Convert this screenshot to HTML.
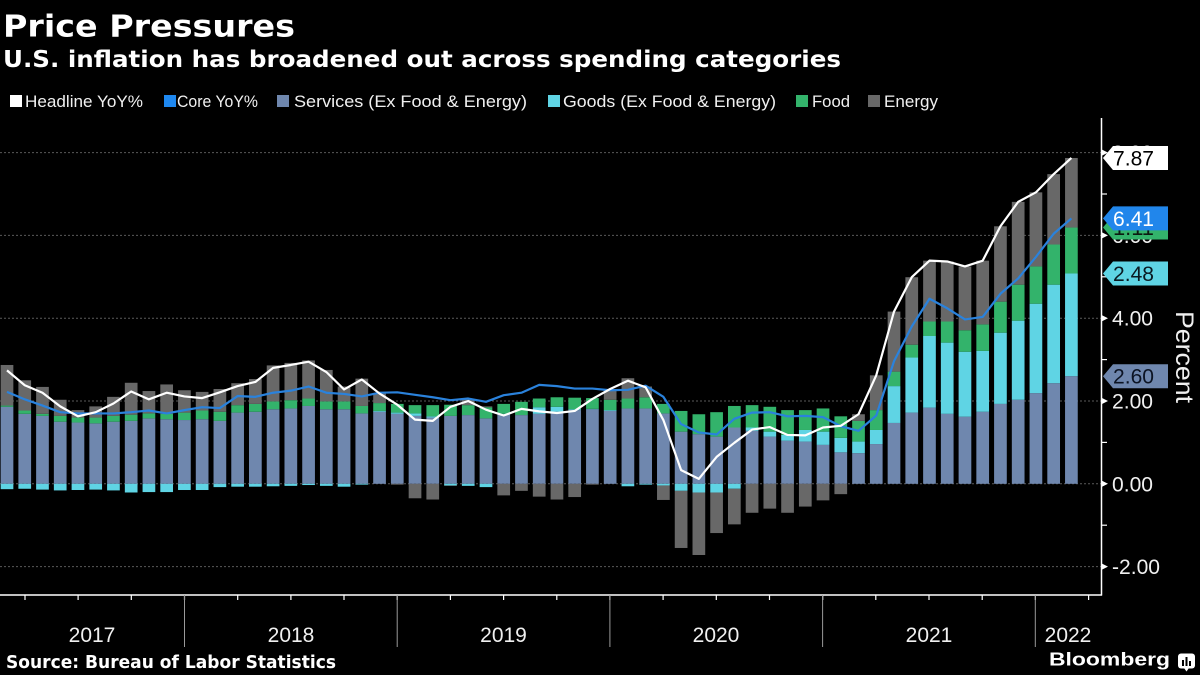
<!DOCTYPE html>
<html><head><meta charset="utf-8">
<style>
html,body{margin:0;padding:0;background:#000;width:1200px;height:675px;overflow:hidden;}
svg{display:block;}
.t{font-family:"DejaVu Sans","Liberation Sans",sans-serif;font-weight:bold;fill:#fff;}
.l{font-family:"Liberation Sans","DejaVu Sans",sans-serif;fill:#f0f0f0;}
</style></head>
<body>
<svg id="s" width="1200" height="675" viewBox="0 0 1200 675" xmlns="http://www.w3.org/2000/svg">
<rect x="0" y="0" width="1200" height="675" fill="#000"/>
<text class="t" x="3" y="36.5" font-size="30" textLength="292" lengthAdjust="spacingAndGlyphs">Price Pressures</text>
<text class="t" x="3" y="67" font-size="23.5" textLength="838" lengthAdjust="spacingAndGlyphs">U.S. inflation has broadened out across spending categories</text>

<g class="l" font-size="17">
<rect x="10" y="95" width="12" height="12" fill="#ffffff"/>
<text x="25" y="107" textLength="118" lengthAdjust="spacingAndGlyphs">Headline YoY%</text>
<rect x="164" y="95" width="12" height="12" fill="#1e88f0"/>
<text x="177" y="107" textLength="81" lengthAdjust="spacingAndGlyphs">Core YoY%</text>
<rect x="277" y="95" width="12" height="12" fill="#6f87ae"/>
<text x="294" y="107" textLength="233" lengthAdjust="spacingAndGlyphs">Services (Ex Food &amp; Energy)</text>
<rect x="548" y="95" width="12" height="12" fill="#5fd4e4"/>
<text x="563" y="107" textLength="213" lengthAdjust="spacingAndGlyphs">Goods (Ex Food &amp; Energy)</text>
<rect x="796" y="95" width="12" height="12" fill="#33b36b"/>
<text x="812" y="107" textLength="38" lengthAdjust="spacingAndGlyphs">Food</text>
<rect x="868" y="95" width="12" height="12" fill="#686868"/>
<text x="884" y="107" textLength="54" lengthAdjust="spacingAndGlyphs">Energy</text>
</g>

<g id="grid" stroke="#5a5a5a" stroke-width="1" stroke-dasharray="2,2">
<line x1="0" y1="152.6" x2="1101" y2="152.6"/>
<line x1="0" y1="235.4" x2="1101" y2="235.4"/>
<line x1="0" y1="318.2" x2="1101" y2="318.2"/>
<line x1="0" y1="401" x2="1101" y2="401"/>
<line x1="0" y1="483.8" x2="1101" y2="483.8"/>
<line x1="0" y1="566.6" x2="1101" y2="566.6"/>
</g>

<g id="bars"></g>
<g id="lines"></g>

<!-- axes -->
<line x1="1101.5" y1="118" x2="1101.5" y2="595.5" stroke="#fff" stroke-width="1.5"/>
<line x1="0" y1="595" x2="1102" y2="595" stroke="#fff" stroke-width="1.5"/>
<g id="ticks" stroke="#fff" stroke-width="1.2"></g>
<g stroke="#9a9a9a" stroke-width="1">
<line x1="184.5" y1="595" x2="184.5" y2="647"/>
<line x1="397.2" y1="595" x2="397.2" y2="647"/>
<line x1="609.9" y1="595" x2="609.9" y2="647"/>
<line x1="822.6" y1="595" x2="822.6" y2="647"/>
<line x1="1035.3" y1="595" x2="1035.3" y2="647"/>
</g>
<g class="l" font-size="21" text-anchor="middle" fill="#fff">
<text x="92" y="642">2017</text>
<text x="291" y="642">2018</text>
<text x="503.5" y="642">2019</text>
<text x="716" y="642">2020</text>
<text x="929" y="642">2021</text>
<text x="1068" y="642">2022</text>
</g>

<!-- y labels -->
<g class="l" font-size="21" fill="#fff">
<text x="1112" y="160" textLength="41" lengthAdjust="spacingAndGlyphs">8.00</text>
<text x="1112" y="243" textLength="41" lengthAdjust="spacingAndGlyphs">6.00</text>
<text x="1112" y="325.7" textLength="41" lengthAdjust="spacingAndGlyphs">4.00</text>
<text x="1112" y="408.5" textLength="41" lengthAdjust="spacingAndGlyphs">2.00</text>
<text x="1112" y="491.3" textLength="41" lengthAdjust="spacingAndGlyphs">0.00</text>
<text x="1112" y="574" textLength="48" lengthAdjust="spacingAndGlyphs">-2.00</text>
</g>

<!-- tags -->
<g class="l" font-size="21">
<polygon points="1103,158 1113,146 1168,146 1168,170 1113,170" fill="#686868"/>
<polygon points="1103,158 1113,146 1168,146 1168,170 1113,170" fill="#ffffff"/>
<text x="1113" y="165.5" fill="#000" textLength="41" lengthAdjust="spacingAndGlyphs">7.87</text>
<polygon points="1103,227.5 1113,215.5 1168,215.5 1168,239.5 1113,239.5" fill="#33b36b"/>
<text x="1113" y="235" fill="#0b1a10" textLength="41" lengthAdjust="spacingAndGlyphs">1.11</text>
<polygon points="1103,218.4 1113,206.4 1168,206.4 1168,230.4 1113,230.4" fill="#2186eb"/>
<text x="1113" y="226" fill="#fff" textLength="41" lengthAdjust="spacingAndGlyphs">6.41</text>
<polygon points="1103,273.5 1113,261.5 1168,261.5 1168,285.5 1113,285.5" fill="#5fd4e4"/>
<text x="1113" y="281" fill="#0a1a22" textLength="41" lengthAdjust="spacingAndGlyphs">2.48</text>
<polygon points="1103,376.2 1113,364.2 1168,364.2 1168,388.2 1113,388.2" fill="#6f87ae"/>
<text x="1113" y="383.7" fill="#0c1424" textLength="41" lengthAdjust="spacingAndGlyphs">2.60</text>
</g>

<text class="l" font-size="25" fill="#fff" text-anchor="middle" transform="translate(1176,357) rotate(90)" textLength="92" lengthAdjust="spacingAndGlyphs">Percent</text>

<text class="t" x="6" y="668" font-size="17.5" textLength="330" lengthAdjust="spacingAndGlyphs">Source: Bureau of Labor Statistics</text>
<text x="1049" y="665.5" font-family="Liberation Sans, DejaVu Sans, sans-serif" font-weight="bold" font-size="18.6" fill="#fff" textLength="121" lengthAdjust="spacingAndGlyphs">Bloomberg</text>
<g>
<rect x="1178" y="653.5" width="17" height="15" rx="3" fill="#fff"/>
<polygon points="1184,668 1189,668 1186.5,671.5" fill="#fff"/>
<rect x="1182" y="660" width="2" height="6" fill="#000"/>
<rect x="1185.5" y="657" width="2" height="9" fill="#000"/>
<rect x="1189" y="661" width="2" height="5" fill="#000"/>
</g>
</svg>
<script>
(function(){
var H=[2.74,2.38,2.2,1.87,1.63,1.73,1.94,2.23,2.04,2.2,2.11,2.07,2.21,2.36,2.46,2.8,2.87,2.95,2.7,2.28,2.52,2.18,1.91,1.55,1.52,1.86,2.0,1.79,1.65,1.81,1.75,1.71,1.76,2.05,2.29,2.49,2.33,1.54,0.33,0.12,0.65,0.99,1.31,1.37,1.18,1.17,1.36,1.4,1.68,2.62,4.16,4.99,5.39,5.37,5.25,5.39,6.22,6.81,7.04,7.48,7.87];
var C=[2.22,2.04,1.89,1.73,1.7,1.7,1.7,1.73,1.77,1.7,1.78,1.85,1.83,2.12,2.1,2.2,2.25,2.35,2.2,2.17,2.11,2.2,2.21,2.15,2.09,2.02,2.06,1.98,2.14,2.2,2.39,2.36,2.3,2.3,2.26,2.27,2.37,2.1,1.44,1.24,1.19,1.57,1.72,1.73,1.63,1.64,1.61,1.39,1.28,1.65,2.96,3.8,4.47,4.24,3.97,4.03,4.59,4.96,5.48,6.04,6.41];
var S=[1.86,1.69,1.64,1.5,1.48,1.46,1.5,1.52,1.58,1.56,1.54,1.56,1.52,1.72,1.74,1.8,1.82,1.88,1.8,1.8,1.7,1.74,1.69,1.64,1.6,1.64,1.66,1.58,1.69,1.66,1.69,1.74,1.78,1.8,1.76,1.82,1.82,1.7,1.26,1.2,1.14,1.36,1.28,1.14,1.04,1.02,0.94,0.76,0.74,0.96,1.47,1.72,1.84,1.69,1.62,1.74,1.93,2.03,2.19,2.43,2.6];
var G=[-0.13,-0.12,-0.14,-0.16,-0.15,-0.14,-0.16,-0.21,-0.2,-0.2,-0.15,-0.15,-0.08,-0.07,-0.07,-0.06,-0.05,-0.03,-0.05,-0.07,-0.02,0.02,0.03,0.06,0.03,-0.04,-0.05,-0.08,0.0,0.0,0.16,0.12,0.02,0.01,0.02,-0.06,-0.02,-0.04,-0.17,-0.21,-0.21,-0.12,0.08,0.12,0.14,0.28,0.32,0.35,0.28,0.34,0.89,1.33,1.73,1.72,1.57,1.47,1.72,1.91,2.16,2.38,2.48];
var F=[0.03,0.08,0.05,0.14,0.12,0.14,0.14,0.15,0.12,0.13,0.18,0.21,0.22,0.18,0.19,0.19,0.2,0.18,0.19,0.19,0.18,0.19,0.21,0.2,0.27,0.27,0.24,0.27,0.24,0.32,0.21,0.23,0.28,0.26,0.25,0.24,0.27,0.23,0.5,0.48,0.59,0.52,0.54,0.6,0.6,0.48,0.56,0.52,0.5,0.48,0.35,0.31,0.35,0.51,0.52,0.64,0.75,0.87,0.9,0.97,1.11];
var E=[0.98,0.73,0.65,0.39,0.18,0.27,0.46,0.77,0.54,0.71,0.54,0.45,0.55,0.53,0.6,0.87,0.9,0.92,0.76,0.36,0.66,0.23,-0.02,-0.35,-0.38,-0.01,0.15,0.02,-0.28,-0.17,-0.31,-0.38,-0.32,-0.02,0.26,0.49,0.26,-0.35,-1.38,-1.51,-0.98,-0.86,-0.7,-0.6,-0.7,-0.55,-0.4,-0.25,0.16,0.84,1.45,1.63,1.47,1.45,1.54,1.54,1.82,2.0,1.79,1.7,1.68];
function Y(v){return 483.8-41.4*v;}
function X(i){return 7.0+17.74*i;}
var cols=['#6f87ae','#5fd4e4','#33b36b','#686868'];
var out='';
for(var i=0;i<61;i++){
  var x=X(i)-6.35,pos=0,neg=0,vals=[S[i],G[i],F[i],E[i]];
  for(var k=0;k<4;k++){
    var v=vals[k],y1,y2;
    if(v===0)continue;
    if(v>0){y1=Y(pos+v);y2=Y(pos);pos+=v;}
    else{y1=Y(neg);y2=Y(neg+v);neg+=v;}
    out+='<rect x="'+x.toFixed(2)+'" y="'+y1.toFixed(2)+'" width="12.7" height="'+(y2-y1).toFixed(2)+'" fill="'+cols[k]+'"/>';
  }
}
document.getElementById('bars').innerHTML=out;
function pts(a){var p=[];for(var i=0;i<a.length;i++)p.push(X(i).toFixed(2)+','+Y(a[i]).toFixed(2));return p.join(' ');}
document.getElementById('lines').innerHTML=
 '<polyline points="'+pts(C)+'" fill="none" stroke="#2a82dc" stroke-width="2.2" stroke-linejoin="round"/>'+
 '<polyline points="'+pts(H)+'" fill="none" stroke="#ffffff" stroke-width="2.2" stroke-linejoin="round"/>';
var t='';
for(var v=-2;v<=8;v++){
  var y=Y(v);
  if(v%2===0){t+='<polygon points="1102,'+(y-3).toFixed(1)+' 1108,'+y.toFixed(1)+' 1102,'+(y+3).toFixed(1)+'" fill="#fff" stroke="none"/>';}
  else{t+='<line x1="1102" y1="'+y.toFixed(1)+'" x2="1107" y2="'+y.toFixed(1)+'"/>';}
}
for(var q=-3;q<=17;q++){
  var xx=184.5+53.18*q;
  if(xx<0||xx>1101)continue;
  t+='<line x1="'+xx.toFixed(1)+'" y1="595" x2="'+xx.toFixed(1)+'" y2="600"/>';
}
document.getElementById('ticks').innerHTML=t;
})();
</script>
</body></html>
